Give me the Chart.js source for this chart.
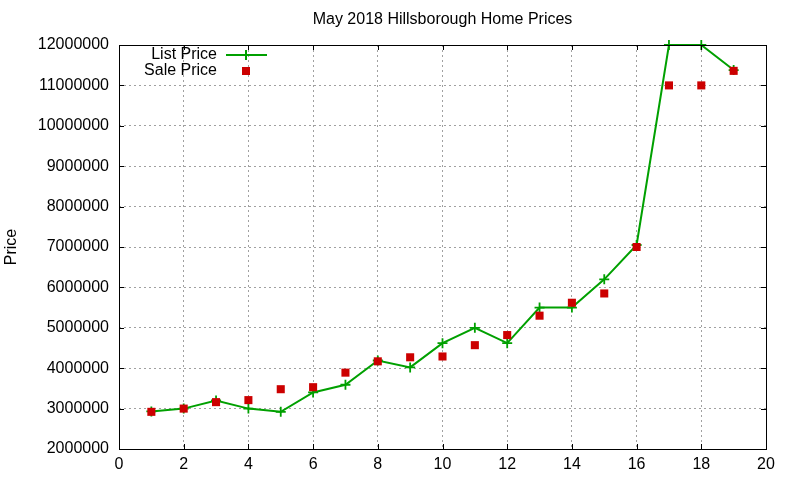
<!DOCTYPE html>
<html>
<head>
<meta charset="utf-8">
<script src="https://cdn.jsdelivr.net/npm/chart.js@4.4.1/dist/chart.umd.min.js"></script>
<style>
  html, body { margin: 0; padding: 0; background: #fff; }
  #wrap { width: 800px; height: 480px; }
</style>
</head>
<body>
<div id="wrap"><canvas id="chart"></canvas></div>
<script>
// Data
const houseIndex = [1, 2, 3, 4, 5, 6, 7, 8, 9, 10, 11, 12, 13, 14, 15, 16, 17, 18, 19];
const listPrices = [2930000, 3000000, 3200000, 3000000, 2920000, 3400000, 3590000, 4190000, 4020000, 4620000,
  5000000, 4620000, 5500000, 5500000, 6200000, 7050000, 12000000, 12000000, 11380000];
const salePrices = [2920000, 3000000, 3160000, 3210000, 3480000, 3530000, 3890000, 4170000, 4270000, 4290000,
  4570000, 4820000, 5300000, 5620000, 5850000, 7000000, 11000000, 11000000, 11360000];
const chartTitle = 'May 2018 Hillsborough Home Prices';

const FONT = 'Liberation Sans, Arial, sans-serif';

// gnuplot-style frame: full box with inward ticks on all four sides, title centred on the plot
const framePlugin = {
  id: 'frame',
  afterDatasetsDraw(chart) {
    const { ctx, chartArea: a, scales } = chart;
    ctx.save();
    ctx.strokeStyle = '#000';
    ctx.lineWidth = 1;
    ctx.strokeRect(a.left + 0.5, a.top + 0.5, a.right - a.left, a.bottom - a.top);
    ctx.beginPath();
    scales.x.ticks.forEach(t => {
      const px = Math.round(scales.x.getPixelForValue(t.value)) + 0.5;
      ctx.moveTo(px, a.bottom); ctx.lineTo(px, a.bottom - 5);
      ctx.moveTo(px, a.top); ctx.lineTo(px, a.top + 5);
    });
    scales.y.ticks.forEach(t => {
      const py = Math.round(scales.y.getPixelForValue(t.value)) + 0.5;
      ctx.moveTo(a.left, py); ctx.lineTo(a.left + 5, py);
      ctx.moveTo(a.right, py); ctx.lineTo(a.right - 5, py);
    });
    ctx.stroke();

    ctx.fillStyle = '#000';
    ctx.font = '16px ' + FONT;
    ctx.textAlign = 'center';
    ctx.textBaseline = 'middle';
    ctx.fillText(chartTitle, (a.left + a.right) / 2, 20);
    ctx.restore();
  }
};

// legend inside top-left, text right aligned next to a sample
const keyPlugin = {
  id: 'key',
  afterDraw(chart) {
    const { ctx } = chart;
    const ds = chart.data.datasets;
    const textRight = 217, sampleX = 246, y0 = 55, rowH = 16;
    ctx.save();
    ctx.font = '16px ' + FONT;
    ctx.fillStyle = '#000';
    ctx.textAlign = 'right';
    ctx.textBaseline = 'middle';
    ds.forEach((d, i) => {
      const y = y0 + i * rowH;
      ctx.fillText(d.label, textRight, y);
      if (d.showLine !== false) {
        ctx.strokeStyle = d.borderColor;
        ctx.lineWidth = 2;
        ctx.beginPath();
        ctx.moveTo(226, y); ctx.lineTo(267, y);
        ctx.moveTo(sampleX, y - 5); ctx.lineTo(sampleX, y + 5);
        ctx.stroke();
      } else {
        ctx.fillStyle = d.pointBackgroundColor;
        ctx.fillRect(sampleX - 4, y - 4, 8, 8);
        ctx.fillStyle = '#000';
      }
    });
    ctx.restore();
  }
};

const gridStyle = {
  color: '#a0a0a0',
  lineWidth: 1,
  drawTicks: false
};

new Chart(document.getElementById('chart'), {
  type: 'line',
  data: {
    datasets: [
      {
        label: 'List Price',
        data: houseIndex.map((x, i) => ({ x, y: listPrices[i] })),
        order: 1,
        borderColor: '#00a000',
        borderWidth: 2,
        tension: 0,
        pointStyle: 'cross',
        pointRadius: 5,
        pointBorderWidth: 1.8,
        pointBorderColor: '#00a000',
        clip: false
      },
      {
        label: 'Sale Price',
        data: houseIndex.map((x, i) => ({ x, y: salePrices[i] })),
        order: 0,
        showLine: false,
        pointStyle: 'rect',
        pointRadius: 5.7,
        pointBorderWidth: 0,
        pointBackgroundColor: '#cc0000',
        pointBorderColor: '#cc0000',
        clip: false
      }
    ]
  },
  options: {
    responsive: true,
    maintainAspectRatio: false,
    animation: false,
    events: [],
    layout: { padding: { left: 0, right: 34, top: 45, bottom: 0 } },
    plugins: {
      legend: { display: false },
      tooltip: { enabled: false },
      title: { display: false }
    },
    scales: {
      x: {
        type: 'linear',
        min: 0,
        max: 20,
        grid: { ...gridStyle },
        border: { display: false, dash: [2, 3] },
        ticks: { stepSize: 2, color: '#000', padding: 6, font: { family: FONT, size: 16 } },
        afterFit(scale) { scale.height = 31; }
      },
      y: {
        min: 2000000,
        max: 12000000,
        grid: { ...gridStyle },
        border: { display: false, dash: [2, 3] },
        ticks: {
          stepSize: 1000000,
          color: '#000',
          padding: 10,
          font: { family: FONT, size: 16 },
          callback: v => String(v)
        },
        title: {
          display: true,
          text: 'Price',
          color: '#000',
          font: { family: FONT, size: 16 },
          padding: { top: 2, bottom: 0 }
        },
        afterFit(scale) { scale.width = 119; }
      }
    }
  },
  plugins: [framePlugin, keyPlugin]
});
</script>
</body>
</html>
